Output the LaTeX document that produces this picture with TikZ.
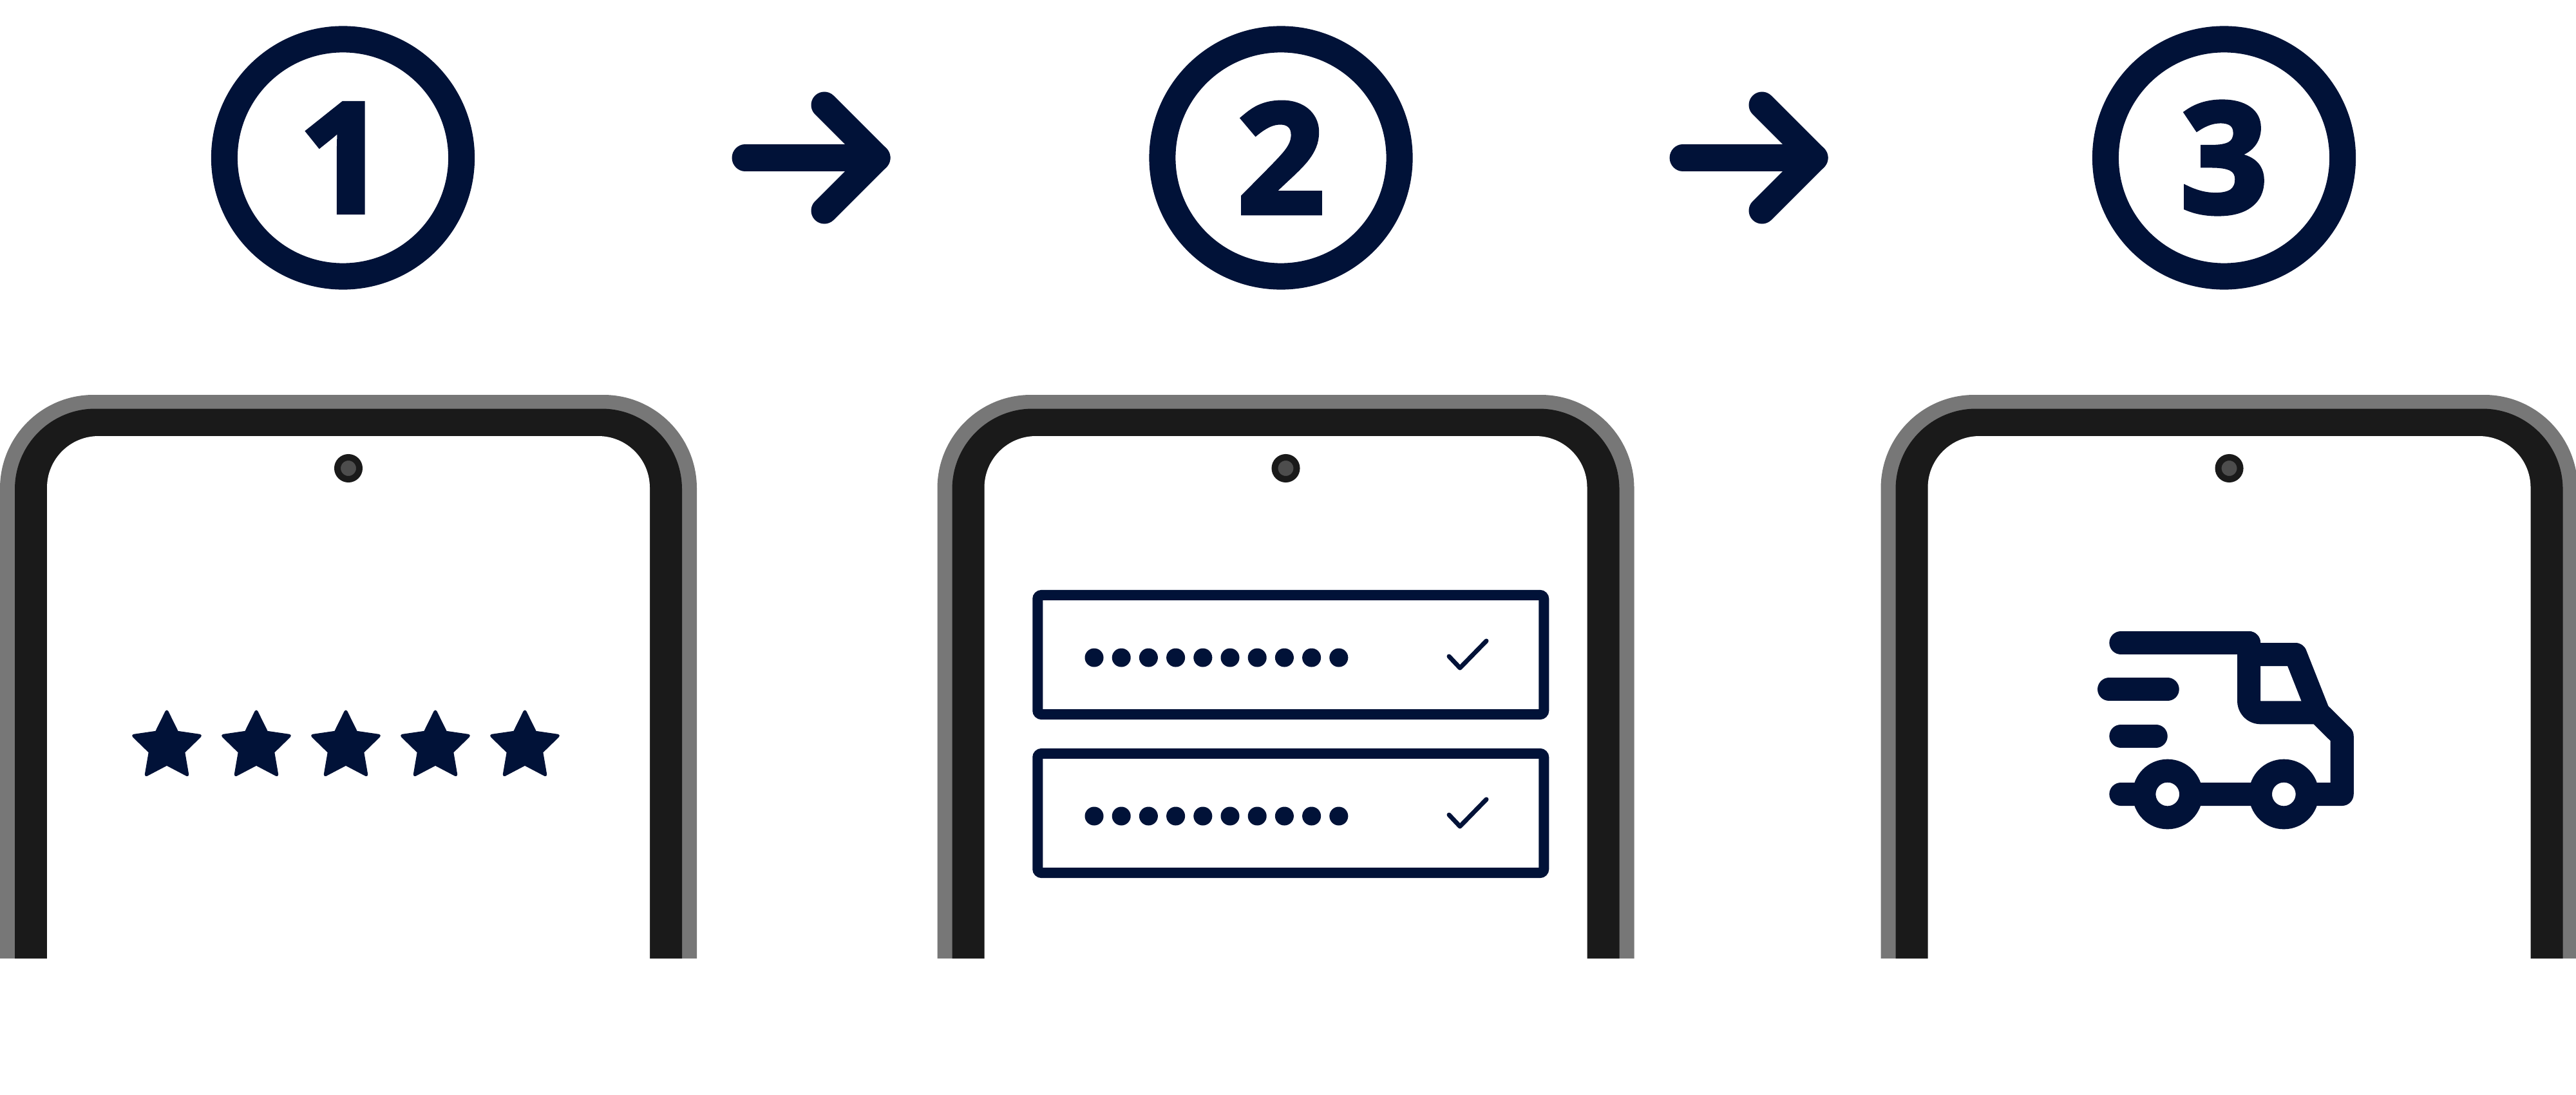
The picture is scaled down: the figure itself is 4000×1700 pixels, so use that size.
\documentclass[tikz,border=0pt]{standalone}
\usepackage{fontspec}
\setmainfont{Open Sans}[BoldFeatures={FakeBold=3.5}]
\usetikzlibrary{shapes, shapes.geometric, positioning}
\definecolor{navy}{HTML}{011238}
\definecolor{bezelgray}{HTML}{777777}
\definecolor{bezeldark}{HTML}{1A1A1A}
\definecolor{lensgray}{HTML}{4D4D4D}

\begin{document}
\begin{tikzpicture}[
  x=0.01cm, y=-0.01cm, % one unit is one pixel of the original picture
  stepring/.style={circle,draw=navy,text=navy,line width=0.41cm,minimum size=3.68cm,inner sep=0pt,font=\bfseries\fontsize{67}{67}\selectfont},
  arrowline/.style={draw=navy,line width=0.41cm,line cap=round,line join=round},
  lens/.style={circle,draw=bezeldark,fill=lensgray,line width=0.1cm,minimum size=0.34cm,inner sep=0pt},
  starmark/.style={star,star points=5,star point ratio=2,draw=navy,fill=navy,line width=0.05cm,line join=round,minimum size=1.08cm,inner sep=0pt},
  fieldbox/.style={rectangle,draw=navy,line width=0.16cm,rounded corners=0.06cm,minimum width=7.855cm,minimum height=1.85cm,inner sep=0pt},
  dotmark/.style={circle,fill=navy,minimum size=0.29cm,inner sep=0pt},
  tickmark/.style={draw=navy,line width=0.07cm,line cap=round,line join=round},
  truckline/.style={draw=navy,line width=0.36cm,line cap=round,line join=round},
  wheel/.style={circle,draw=navy,fill=white,line width=0.36cm,minimum size=0.726cm,inner sep=0pt}]

  \useasboundingbox (0,0) rectangle (4000,1700);

  % numbered steps
  \node[stepring] (step1) at (532.5,245){1};
  \node[stepring] (step2) at (1989,245){2};
  \node[stepring] (step3) at (3453.5,245){3};

  % arrows between the steps
  \foreach \i/\dx in {1/0,2/1456}{
    \coordinate (tail\i) at (1157+\dx,245);
    \coordinate (tip\i) at (1362+\dx,245);
    \coordinate (barbup\i) at (1280+\dx,163);
    \coordinate (barbdown\i) at (1280+\dx,327);
    \draw[arrowline] (tail\i) -- (tip\i);
    \draw[arrowline] (barbup\i) -- (tip\i) -- (barbdown\i);
  }

  % phones, cut off at the bottom
  \foreach \i/\cx in {1/541,2/1996.5,3/3461.5}{
    \fill[bezelgray] (\cx-541,1488) [rounded corners=1.45cm] -- (\cx-541,613) -- (\cx+541,613) [sharp corners] -- (\cx+541,1488) -- cycle;
    \fill[bezeldark] (\cx-518,1488) [rounded corners=1.25cm] -- (\cx-518,634.5) -- (\cx+518,634.5) [sharp corners] -- (\cx+518,1488) -- cycle;
    \fill[white] (\cx-468,1495) [rounded corners=0.8cm] -- (\cx-468,677) -- (\cx+468,677) [sharp corners] -- (\cx+468,1495) -- cycle;
    \node[lens] (lens\i) at (\cx,727){};
  }

  % phone 1: rating
  \foreach \i in {1,...,5}
    \node[starmark] (star\i) at ({259+139*(\i-1)},1159){};

  % phone 2: filled in fields
  \foreach \b/\y in {1/1016.5,2/1262.5}{
    \node[fieldbox] (field\b) at (2004.25,\y){};
    \foreach \i in {1,...,10}
      \node[dotmark] (dot\b\i) at ({1699+42.2*(\i-1)},\y+4.5){};
    \draw[tickmark] (2250,\y+2.5) -- (2267,\y+20.5) -- (2308,\y-21.5);
  }

  % phone 3: delivery van
  \draw[truckline] (3492,998) [rounded corners=0.18cm] -- (3492,1106.3) [sharp corners] -- (3600,1106.3) -- (3636.7,1142.7) -- (3636.7,1233) -- (3293.3,1233);
  \draw[truckline] (3293.3,998) -- (3492,998);
  \draw[truckline] (3492,1016) -- (3564.3,1016) -- (3600,1106.3);
  \draw[truckline] (3275,1070.3) -- (3365.7,1070.3);
  \draw[truckline] (3293.3,1142.7) -- (3347.7,1142.7);
  \node[wheel] (wheel1) at (3365.7,1233){};
  \node[wheel] (wheel2) at (3546.3,1233){};
\end{tikzpicture}
\end{document}
